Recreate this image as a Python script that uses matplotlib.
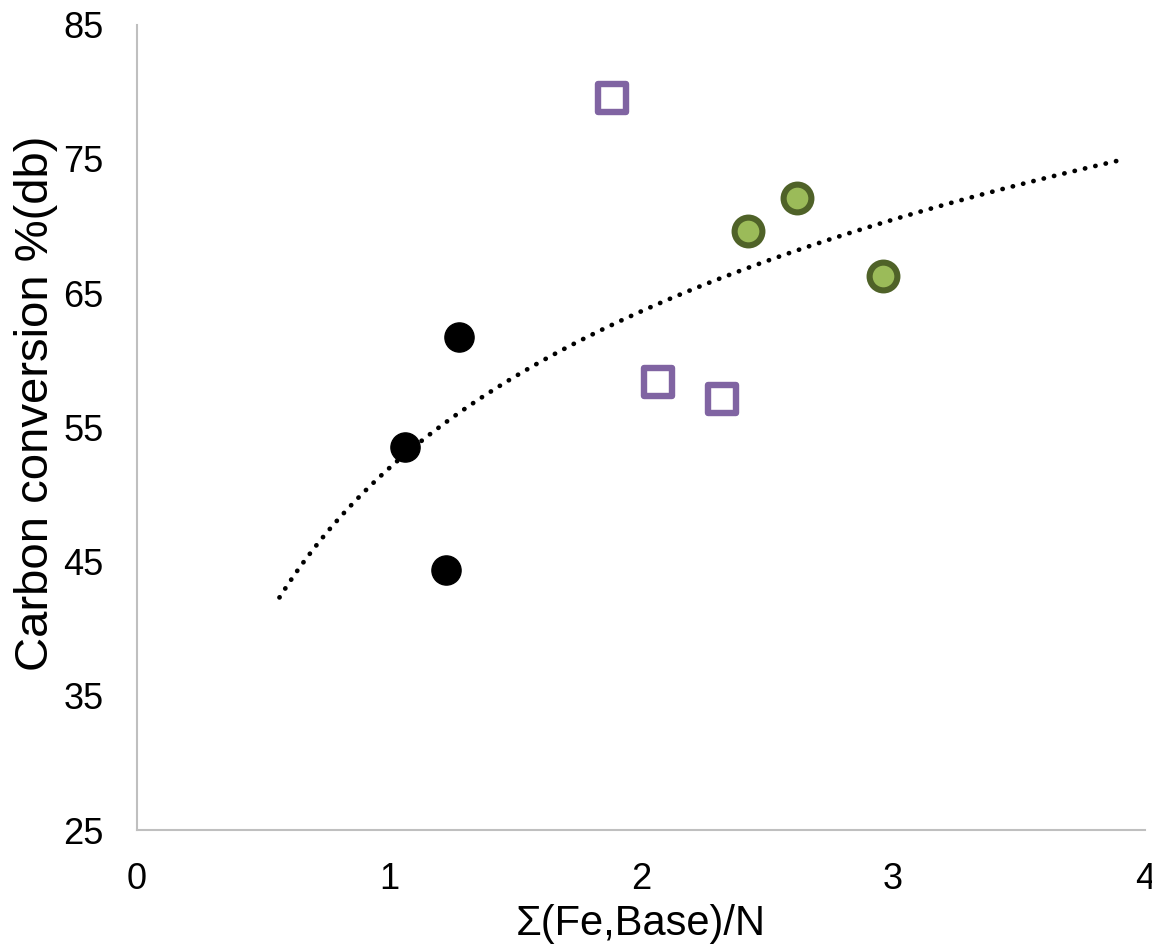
import numpy as np
import matplotlib.pyplot as plt
from matplotlib.markers import MarkerStyle

plt.rcParams['font.family'] = ['Liberation Sans', 'DejaVu Sans']

# data
x_black = [1.063, 1.278, 1.226]
y_black = [53.55, 61.75, 44.4]
x_purple = [1.885, 2.067, 2.32]
y_purple = [79.56, 58.4, 57.13]
x_green = [2.425, 2.619, 2.96]
y_green = [69.65, 72.1, 66.3]

x_ticks = [0, 1, 2, 3, 4]
y_ticks = [25, 35, 45, 55, 65, 75, 85]

# logarithmic trend line over all points (Excel style)
x_all = np.array(x_black + x_purple + x_green)
y_all = np.array(y_black + y_purple + y_green)
a, b = np.polyfit(np.log(x_all), y_all, 1)
x_fit = np.linspace(0.565, 3.9, 200)
y_fit = a * np.log(x_fit) + b

fig = plt.figure(figsize=(11.52, 9.51), dpi=100)
ax = fig.add_axes([0.119, 0.127, 0.875, 0.847])

ax.plot(x_fit, y_fit, color='black', lw=3.4, linestyle=(0, (0.05, 2.2)),
        dash_capstyle='round', zorder=2)

ax.plot(x_black, y_black, 'o', color='black', ms=21, zorder=3)
sq = MarkerStyle('s', joinstyle='round')
ax.plot(x_purple, y_purple, marker=sq, ls='none', mfc='white', mec='#8064A2',
        mew=4.6, ms=19.5, zorder=3)
ax.plot(x_green, y_green, 'o', mfc='#9BBB59', mec='#4F6228', mew=4.4, ms=20,
        zorder=3)

ax.set_xlim(0, 4)
ax.set_ylim(25, 85)
ax.set_xticks(x_ticks)
ax.set_yticks(y_ticks)
ax.tick_params(length=0, labelsize=26)
ax.tick_params(axis='x', pad=23)
ax.tick_params(axis='y', pad=24)

for s in ['top', 'right']:
    ax.spines[s].set_visible(False)
for s in ['left', 'bottom']:
    ax.spines[s].set_color('#BFBFBF')
    ax.spines[s].set_linewidth(1.5)

ax.set_xlabel('Σ(Fe,Base)/N', fontsize=30)
ax.set_ylabel('Carbon conversion %(db)', fontsize=34)
ax.xaxis.set_label_coords(0.5, -0.092)
ax.yaxis.set_label_coords(-0.078, 0.53)

fig.savefig('out.png', dpi=100)
